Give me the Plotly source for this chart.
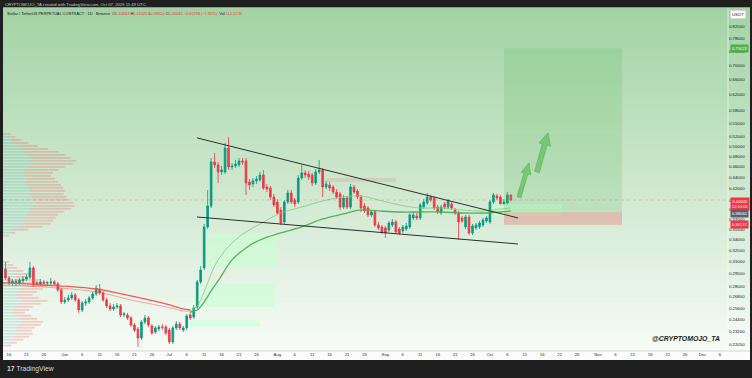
import math
import pandas as pd
import plotly.graph_objects as go

# ---------------- data ----------------
dates = pd.date_range("2025-05-15", periods=146, freq="D")

opens = [0.3009, 0.2899, 0.2840, 0.2863, 0.2840, 0.2863, 0.2887, 0.2911, 0.3022, 0.2828,
         0.2828, 0.2851, 0.2840, 0.2840, 0.2851, 0.2828, 0.2759, 0.2625, 0.2647, 0.2669,
         0.2702, 0.2647, 0.2539, 0.2614, 0.2625, 0.2669, 0.2714, 0.2770, 0.2725, 0.2647,
         0.2582, 0.2550, 0.2571, 0.2582, 0.2488, 0.2488, 0.2457, 0.2386, 0.2347, 0.2261,
         0.2416, 0.2457, 0.2376, 0.2318, 0.2347, 0.2367, 0.2367, 0.2337, 0.2224, 0.2357,
         0.2396, 0.2337, 0.2357, 0.2488, 0.2467, 0.2571, 0.2851, 0.3022, 0.3581, 0.3906,
         0.4688, 0.4630, 0.4498, 0.4498, 0.4965, 0.4591, 0.4610, 0.4630, 0.4707, 0.4707,
         0.4315, 0.4279, 0.4333, 0.4351, 0.4441, 0.4225, 0.4207, 0.4054, 0.3972, 0.3842,
         0.3656, 0.3972, 0.4122, 0.4005, 0.3972, 0.4385, 0.4479, 0.4460, 0.4441, 0.4297,
         0.4498, 0.4535, 0.4225, 0.4261, 0.4225, 0.4139, 0.4105, 0.3889, 0.4037, 0.3889,
         0.4225, 0.4157, 0.4054, 0.3906, 0.3873, 0.3763, 0.3810, 0.3610, 0.3581, 0.3566,
         0.3537, 0.3610, 0.3656, 0.3551, 0.3522, 0.3551, 0.3581, 0.3717, 0.3748, 0.3717,
         0.3889, 0.3955, 0.4054, 0.4037, 0.3889, 0.3794, 0.3939, 0.3889, 0.3939, 0.3842,
         0.3794, 0.3717, 0.3581, 0.3732, 0.3493, 0.3566, 0.3581, 0.3610, 0.3671, 0.3656,
         0.3972, 0.4071, 0.4054, 0.3939, 0.3955, 0.40843]
highs = [0.3099, 0.2923, 0.2887, 0.2887, 0.2899, 0.2923, 0.2948, 0.3099, 0.3047, 0.2863,
         0.2887, 0.2875, 0.2863, 0.2899, 0.2875, 0.2851, 0.2781, 0.2680, 0.2702, 0.2736,
         0.2725, 0.2669, 0.2636, 0.2658, 0.2691, 0.2736, 0.2816, 0.2828, 0.2748, 0.2669,
         0.2614, 0.2603, 0.2614, 0.2603, 0.2518, 0.2508, 0.2477, 0.2406, 0.2367, 0.2436,
         0.2488, 0.2477, 0.2396, 0.2376, 0.2386, 0.2396, 0.2386, 0.2357, 0.2376, 0.2426,
         0.2416, 0.2376, 0.2498, 0.2518, 0.2592, 0.2875, 0.3047, 0.3625, 0.4174, 0.4764,
         0.4866, 0.4688, 0.4610, 0.5071, 0.5197, 0.4669, 0.4727, 0.4764, 0.4764, 0.4764,
         0.4367, 0.4385, 0.4423, 0.4498, 0.4535, 0.4279, 0.4243, 0.4105, 0.4020, 0.3889,
         0.4005, 0.4174, 0.4174, 0.4037, 0.4441, 0.4630, 0.4535, 0.4516, 0.4479, 0.4552,
         0.4727, 0.4571, 0.4333, 0.4315, 0.4261, 0.4189, 0.4139, 0.4088, 0.4071, 0.4279,
         0.4261, 0.4189, 0.4088, 0.3955, 0.3906, 0.3842, 0.3842, 0.3656, 0.3610, 0.3596,
         0.3671, 0.3701, 0.3686, 0.3581, 0.3610, 0.3640, 0.3794, 0.3810, 0.3794, 0.3955,
         0.4020, 0.4122, 0.4088, 0.4071, 0.3922, 0.3922, 0.3972, 0.4020, 0.3972, 0.3873,
         0.3826, 0.3748, 0.3763, 0.3763, 0.3625, 0.3640, 0.3671, 0.3717, 0.3748, 0.4005,
         0.4122, 0.4105, 0.4088, 0.4020, 0.4139, 0.41020]
lows = [0.2875, 0.2816, 0.2816, 0.2804, 0.2816, 0.2840, 0.2863, 0.2887, 0.2793, 0.2804,
        0.2804, 0.2804, 0.2804, 0.2816, 0.2804, 0.2736, 0.2603, 0.2603, 0.2625, 0.2647,
        0.2625, 0.2508, 0.2518, 0.2582, 0.2603, 0.2647, 0.2691, 0.2702, 0.2625, 0.2560,
        0.2529, 0.2529, 0.2550, 0.2467, 0.2467, 0.2436, 0.2367, 0.2318, 0.2179, 0.2243,
        0.2396, 0.2367, 0.2289, 0.2299, 0.2327, 0.2337, 0.2289, 0.2206, 0.2206, 0.2337,
        0.2337, 0.2318, 0.2337, 0.2436, 0.2447, 0.2550, 0.2828, 0.2997, 0.3551, 0.3873,
        0.4571, 0.4297, 0.4441, 0.4460, 0.4535, 0.4535, 0.4571, 0.4591, 0.4630, 0.4088,
        0.4174, 0.4225, 0.4279, 0.4315, 0.4174, 0.4139, 0.4005, 0.3889, 0.3763, 0.3610,
        0.3625, 0.3939, 0.3939, 0.3889, 0.3939, 0.4351, 0.4385, 0.4351, 0.4243, 0.4261,
        0.4460, 0.4054, 0.4189, 0.4157, 0.4105, 0.4020, 0.3842, 0.3857, 0.3857, 0.3857,
        0.4105, 0.4020, 0.3810, 0.3794, 0.3732, 0.3732, 0.3581, 0.3537, 0.3479, 0.3423,
        0.3508, 0.3581, 0.3479, 0.3464, 0.3493, 0.3522, 0.3551, 0.3686, 0.3686, 0.3686,
        0.3857, 0.3922, 0.3972, 0.3842, 0.3779, 0.3763, 0.3857, 0.3857, 0.3842, 0.3763,
        0.3393, 0.3640, 0.3551, 0.3464, 0.3464, 0.3537, 0.3551, 0.3581, 0.3640, 0.3625,
        0.3939, 0.4005, 0.3906, 0.3906, 0.3922, 0.39820]
closes = [0.2899, 0.2840, 0.2863, 0.2840, 0.2875, 0.2887, 0.2911, 0.3022, 0.2816, 0.2840,
          0.2851, 0.2840, 0.2843, 0.2851, 0.2828, 0.2759, 0.2625, 0.2647, 0.2669, 0.2702,
          0.2647, 0.2539, 0.2614, 0.2625, 0.2669, 0.2714, 0.2781, 0.2725, 0.2647, 0.2582,
          0.2550, 0.2571, 0.2582, 0.2488, 0.2498, 0.2457, 0.2386, 0.2337, 0.2261, 0.2416,
          0.2457, 0.2386, 0.2308, 0.2357, 0.2367, 0.2364, 0.2308, 0.2224, 0.2357, 0.2396,
          0.2357, 0.2357, 0.2477, 0.2457, 0.2560, 0.2851, 0.2997, 0.3581, 0.3906, 0.4688,
          0.4630, 0.4498, 0.4535, 0.4965, 0.4591, 0.4610, 0.4649, 0.4707, 0.4688, 0.4297,
          0.4261, 0.4333, 0.4367, 0.4441, 0.4207, 0.4189, 0.4054, 0.3922, 0.3794, 0.3640,
          0.3972, 0.4122, 0.3972, 0.3939, 0.4385, 0.4479, 0.4441, 0.4404, 0.4297, 0.4498,
          0.4535, 0.4225, 0.4279, 0.4207, 0.4139, 0.4054, 0.3889, 0.4037, 0.3889, 0.4225,
          0.4139, 0.4054, 0.3873, 0.3826, 0.3763, 0.3810, 0.3610, 0.3566, 0.3508, 0.3493,
          0.3640, 0.3656, 0.3508, 0.3493, 0.3581, 0.3596, 0.3763, 0.3763, 0.3717, 0.3922,
          0.3972, 0.4054, 0.4005, 0.3873, 0.3810, 0.3889, 0.3889, 0.3988, 0.3873, 0.3794,
          0.3656, 0.3671, 0.3732, 0.3493, 0.3596, 0.3610, 0.3640, 0.3686, 0.3717, 0.3972,
          0.4088, 0.4037, 0.3939, 0.3972, 0.4088, 0.40045]

# moving averages (two, red while below, green while above)
ma_red_dates = ["2025-05-14", "2025-05-26", "2025-06-10", "2025-06-20", "2025-06-30", "2025-07-05", "2025-07-07"]
ma_red_slow = [0.2840, 0.2816, 0.2770, 0.2691, 0.2603, 0.2550, 0.2539]
ma_red_fast = [0.2816, 0.2793, 0.2736, 0.2647, 0.2571, 0.2529, 0.2529]
ma_green_dates = ["2025-07-07", "2025-07-09", "2025-07-11", "2025-07-13", "2025-07-15", "2025-07-19",
                  "2025-07-23", "2025-07-27", "2025-08-02", "2025-08-08", "2025-08-14", "2025-08-20",
                  "2025-08-25", "2025-08-30", "2025-09-05", "2025-09-11", "2025-09-17", "2025-09-23",
                  "2025-09-29", "2025-10-04", "2025-10-07"]
ma_green_fast = [0.2529, 0.2582, 0.2736, 0.2948, 0.3124, 0.3351, 0.3508, 0.3625, 0.3794, 0.3889, 0.3988,
                 0.4054, 0.4071, 0.4005, 0.3922, 0.3873, 0.3873, 0.3842, 0.3826, 0.3857, 0.3873]
ma_green_slow = [0.2518, 0.2539, 0.2625, 0.2748, 0.2863, 0.3124, 0.3283, 0.3393, 0.3493, 0.3581, 0.3701,
                 0.3779, 0.3842, 0.3826, 0.3810, 0.3810, 0.3810, 0.3794, 0.3794, 0.3810, 0.3826]

# wedge trendlines
trend_dates = ["2025-07-08 22:48", "2025-10-09 01:12"]
trend_upper = [0.5178, 0.3717]
trend_lower = [0.3732, 0.3337]

# boxes: (start, end, top, bottom)
fvg_green = [("2025-07-11 19:00", "2025-08-01 05:00", 0.3493, 0.3034),
             ("2025-07-10 02:00", "2025-07-31 05:00", 0.2828, 0.2571),
             ("2025-07-06 22:00", "2025-07-27 00:00", 0.2436, 0.2367),
             ("2025-10-01 22:00", "2025-10-22 00:00", 0.3939, 0.3748)]
fvg_red = [("2025-08-15 05:00", "2025-09-04 00:00", 0.4385, 0.4315)]

# long position tool
pos_start, pos_end = "2025-10-05 01:00", "2025-11-07 21:36"
entry_price, target_price, stop_price = 0.38060, 0.75023, 0.36137
last_price = 0.40045

# arrows (drawn shapes)
arrow1_x = ["2025-10-08 19:12", "2025-10-09 21:22", "2025-10-11 20:53", "2025-10-12 16:48",
            "2025-10-12 05:02", "2025-10-09 22:34", "2025-10-10 18:43", "2025-10-08 19:12"]
arrow1_y = [0.4061, 0.4041, 0.4456, 0.4441, 0.4669, 0.4494, 0.4479, 0.4061]
arrow2_x = ["2025-10-13 19:41", "2025-10-15 04:34", "2025-10-17 09:36", "2025-10-18 09:07",
            "2025-10-17 15:50", "2025-10-15 01:12", "2025-10-16 00:43", "2025-10-13 19:41"]
arrow2_y = [0.4511, 0.4485, 0.5023, 0.5004, 0.5286, 0.5071, 0.5052, 0.4511]

# visible range volume profile
vp_top_prices = [0.5264, 0.5199, 0.5135, 0.5072, 0.5009, 0.4948, 0.4887, 0.4827, 0.4767, 0.4708,
                 0.4650, 0.4593, 0.4537, 0.4481, 0.4426, 0.4371, 0.4317, 0.4264, 0.4212, 0.4160,
                 0.4108, 0.4058, 0.4008, 0.3958, 0.3909, 0.3861, 0.3814, 0.3767, 0.3720, 0.3675,
                 0.3629, 0.3584, 0.3540, 0.3497, 0.3454]
vp_top_up = [5, 7, 11, 15, 20, 25, 30, 35, 40, 38, 42, 35, 30, 28, 30, 32, 30, 34, 36, 38,
             35, 40, 42, 44, 40, 38, 36, 33, 30, 28, 27, 22, 15, 8, 4]
vp_top_down = [6, 10, 14, 20, 28, 37, 46, 51, 54, 63, 55, 51, 46, 41, 36, 40, 46, 46, 47, 48,
               48, 48, 49, 53, 59, 56, 47, 43, 42, 41, 39, 33, 20, 9, 4]
vp_bot_prices = [0.3098, 0.3060, 0.3022, 0.2985, 0.2948, 0.2912, 0.2876, 0.2840, 0.2805, 0.2771,
                 0.2737, 0.2703, 0.2670, 0.2637, 0.2605, 0.2573, 0.2541, 0.2510, 0.2479, 0.2448,
                 0.2418, 0.2388, 0.2359, 0.2330, 0.2301, 0.2273, 0.2245, 0.2217, 0.2190]
vp_bot_up = [3, 6, 8, 12, 15, 18, 22, 25, 27, 24, 20, 18, 22, 26, 22, 18, 15, 13, 17, 20,
             24, 22, 19, 17, 18, 15, 12, 8, 5]
vp_bot_down = [5, 8, 11, 16, 21, 26, 30, 33, 35, 31, 27, 23, 28, 35, 30, 23, 21, 17, 22, 27,
               31, 30, 25, 22, 23, 21, 16, 11, 6]

# axes
price_ticks = [0.82, 0.78, 0.74, 0.70, 0.66, 0.62, 0.58, 0.55, 0.52, 0.50, 0.48, 0.46, 0.44, 0.42,
               0.40, 0.385, 0.37, 0.355, 0.34, 0.325, 0.31, 0.295, 0.28, 0.268, 0.256, 0.244,
               0.232, 0.2205]
x_tick_dates = ["2025-05-16", "2025-05-21", "2025-05-26", "2025-06-01", "2025-06-06", "2025-06-11",
                "2025-06-16", "2025-06-21", "2025-06-26", "2025-07-01", "2025-07-06", "2025-07-11",
                "2025-07-16", "2025-07-21", "2025-07-26", "2025-08-01", "2025-08-06", "2025-08-11",
                "2025-08-16", "2025-08-21", "2025-08-26", "2025-09-01", "2025-09-06", "2025-09-11",
                "2025-09-16", "2025-09-21", "2025-09-26", "2025-10-01", "2025-10-06", "2025-10-11",
                "2025-10-16", "2025-10-21", "2025-10-26", "2025-11-01", "2025-11-06", "2025-11-11",
                "2025-11-16", "2025-11-21", "2025-11-26", "2025-12-01", "2025-12-06"]
x_tick_text = ["16", "21", "26", "Jun", "6", "11", "16", "21", "26", "Jul", "6", "11", "16", "21",
               "26", "Aug", "6", "11", "16", "21", "26", "Sep", "6", "11", "16", "21", "26", "Oct",
               "6", "11", "16", "21", "26", "Nov", "6", "11", "16", "21", "26", "Dec", "6"]

# ---------------- figure ----------------
W, H = 752, 378
L, R, T, B = 3, 24, 8, 27
PW, PH = W - L - R, H - T - B
FONT = "Liberation Sans"
GREEN, RED = "#089981", "#f23645"


def pxx(px):
    return (px - L) / PW


def pxy(py):
    return (H - B - py) / PH


fig = go.Figure()

# background gradient (chart + price scale column)
top_c, bot_c = (162, 211, 163), (247, 251, 247)
n = 70
for i in range(n):
    t = (i + 0.5) / n
    c = tuple(round(bot_c[k] + (top_c[k] - bot_c[k]) * t) for k in range(3))
    fig.add_shape(type="rect", xref="paper", yref="paper", x0=0, x1=pxx(750),
                  y0=i / n, y1=(i + 1) / n + 0.002, fillcolor="rgb(%d,%d,%d)" % c,
                  line_width=0, layer="below")
# time scale band
fig.add_shape(type="rect", xref="paper", yref="paper", x0=0, x1=pxx(750), y0=pxy(360), y1=0,
              fillcolor="#fbfcfb", line_width=0, layer="below")
fig.add_shape(type="line", xref="paper", yref="paper", x0=0, x1=pxx(750), y0=0, y1=0,
              line=dict(color="#c9cec9", width=0.8), layer="below")
fig.add_shape(type="line", xref="paper", yref="paper", x0=1, x1=1, y0=pxy(360), y1=pxy(8),
              line=dict(color="rgba(255,255,255,0.7)", width=0.8), layer="below")


def add_rect(x0, x1, top, bot, fill):
    fig.add_trace(go.Scatter(x=[x0, x1, x1, x0, x0], y=[bot, bot, top, top, bot], mode="lines",
                             fill="toself", fillcolor=fill, line=dict(width=0),
                             hoverinfo="skip", showlegend=False))


# volume profile on its own horizontal scale
for prices, ups, downs in ((vp_top_prices, vp_top_up, vp_top_down), (vp_bot_prices, vp_bot_up, vp_bot_down)):
    ux, uy, dx, dy = [], [], [], []
    for p, u, d in zip(prices, ups, downs):
        ux += [0, u, None]
        uy += [p, p, None]
        dx += [u, u + d, None]
        dy += [p, p, None]
    fig.add_trace(go.Scatter(x=ux, y=uy, xaxis="x2", yaxis="y", mode="lines",
                             line=dict(color="rgba(38,166,154,0.20)", width=1.8),
                             hoverinfo="skip", showlegend=False))
    fig.add_trace(go.Scatter(x=dx, y=dy, xaxis="x2", yaxis="y", mode="lines",
                             line=dict(color="rgba(239,83,80,0.26)", width=1.8),
                             hoverinfo="skip", showlegend=False))

for x0, x1, top, bot in fvg_green:
    add_rect(x0, x1, top, bot, "rgba(200,255,210,0.55)")
for x0, x1, top, bot in fvg_red:
    add_rect(x0, x1, top, bot, "rgba(242,54,69,0.13)")

# position tool zones
add_rect(pos_start, pos_end, target_price, entry_price, "rgba(76,175,80,0.17)")
add_rect(pos_start, pos_end, entry_price, stop_price, "rgba(242,54,69,0.25)")

# moving averages
fig.add_trace(go.Scatter(x=ma_red_dates, y=ma_red_fast, mode="lines", line=dict(color="rgba(239,83,80,0.55)", width=0.9, shape="spline"), hoverinfo="skip", showlegend=False))
fig.add_trace(go.Scatter(x=ma_red_dates, y=ma_red_slow, mode="lines", line=dict(color="rgba(239,83,80,0.95)", width=1.3, shape="spline"), hoverinfo="skip", showlegend=False))
fig.add_trace(go.Scatter(x=ma_green_dates, y=ma_green_fast, mode="lines", line=dict(color="rgba(129,205,129,0.9)", width=0.9, shape="spline"), hoverinfo="skip", showlegend=False))
fig.add_trace(go.Scatter(x=ma_green_dates, y=ma_green_slow, mode="lines", line=dict(color="rgba(76,175,80,0.95)", width=1.3, shape="spline"), hoverinfo="skip", showlegend=False))

# last price line
x_start, x_end = "2025-05-14 06:41", "2025-12-08 07:26"
fig.add_trace(go.Scatter(x=[x_start, x_end], y=[last_price, last_price], mode="lines",
                         line=dict(color="rgba(242,54,69,0.35)", width=0.7, dash="dot"),
                         hoverinfo="skip", showlegend=False))

# candles
fig.add_trace(go.Candlestick(x=dates, open=opens, high=highs, low=lows, close=closes,
                             increasing=dict(line=dict(color=GREEN, width=0.8), fillcolor=GREEN),
                             decreasing=dict(line=dict(color=RED, width=0.8), fillcolor=RED),
                             whiskerwidth=0, hoverinfo="skip", showlegend=False))

# trendlines
for ys in (trend_upper, trend_lower):
    fig.add_trace(go.Scatter(x=trend_dates, y=ys, mode="lines", line=dict(color="#2e2e2e", width=1),
                             hoverinfo="skip", showlegend=False))

# arrows
for ax_, ay_ in ((arrow1_x, arrow1_y), (arrow2_x, arrow2_y)):
    fig.add_trace(go.Scatter(x=ax_, y=ay_, mode="lines", fill="toself",
                             fillcolor="rgba(112,196,112,0.9)", line=dict(color="#5cb55c", width=0.7),
                             hoverinfo="skip", showlegend=False))

# ---------------- annotations ----------------
ann = []


def tag(text, price, bg, yshift=0, yanchor="middle"):
    ann.append(dict(xref="paper", yref="y", x=pxx(729.5), y=math.log10(price), xanchor="left",
                    yanchor=yanchor, text=text, showarrow=False, bgcolor=bg, borderpad=0.9,
                    yshift=yshift, font=dict(size=4.1, color="white", family=FONT)))


tag("0.75023", target_price, "#4caf50")
tag("0.40045<br>12:10:05", last_price, RED, yshift=3.2, yanchor="top")
tag("0.38060", entry_price, "#5d606b", yshift=-1)
tag("0.36137", stop_price, RED)

ann.append(dict(xref="paper", yref="paper", x=pxx(730.5), y=pxy(9.5), xanchor="left", yanchor="top",
                text="USDT", showarrow=False, bgcolor="white", bordercolor="#c9cec9", borderwidth=0.6,
                borderpad=1.5, font=dict(size=4.2, color="#131722", family=FONT)))

ann.append(dict(xref="paper", yref="paper", x=pxx(3), y=pxy(4), xanchor="left", yanchor="middle",
                text="CRYPTOMOJO_TA created with TradingView.com, Oct 07, 2025 11:49 UTC", showarrow=False,
                font=dict(size=4.2, color="#c9c9c9", family=FONT)))
ann.append(dict(xref="paper", yref="paper", x=pxx(5), y=pxy(13.5), xanchor="left", yanchor="middle",
                text=("Stellar / TetherUS PERPETUAL CONTRACT · 1D · Binance  "
                      "O<span style='color:#f23645'>0.40843</span> H<span style='color:#f23645'>0.41020</span> "
                      "L<span style='color:#f23645'>0.39820</span> C<span style='color:#f23645'>0.40045</span> "
                      "<span style='color:#f23645'>−0.00798 (−1.95%)</span>  Vol <span style='color:#f23645'>114.12 M</span>"),
                showarrow=False, font=dict(size=3.9, color="#131722", family=FONT)))
ann.append(dict(xref="paper", yref="paper", x=pxx(722), y=pxy(338.5), xanchor="right", yanchor="middle",
                text="<b><i>@CRYPTOMOJO_TA</i></b>", showarrow=False,
                font=dict(size=6.9, color="#1b1b1b", family=FONT)))
ann.append(dict(xref="paper", yref="paper", x=pxx(5), y=pxy(369), xanchor="left", yanchor="middle",
                text="<b>17</b> TradingView", showarrow=False,
                font=dict(size=6.8, color="#d8d8d8", family=FONT)))

fig.update_layout(
    width=W, height=H,
    margin=dict(l=L, r=R, t=T, b=B, pad=0, autoexpand=False),
    paper_bgcolor="#1f1f1f",
    plot_bgcolor="rgba(0,0,0,0)",
    showlegend=False,
    annotations=ann,
    xaxis=dict(type="date", range=[x_start, x_end], rangeslider=dict(visible=False),
               showgrid=False, zeroline=False, showline=False, ticks="",
               tickmode="array", tickvals=x_tick_dates, ticktext=x_tick_text,
               tickfont=dict(size=4.3, color="#2a2e39", family=FONT), fixedrange=True),
    xaxis2=dict(overlaying="x", anchor="y", range=[0, 1000], visible=False, fixedrange=True),
    yaxis=dict(type="log", side="right", range=[-0.6691, -0.0522], showgrid=False, zeroline=False,
               showline=False, ticks="", tickmode="array", tickvals=price_ticks,
               ticktext=["%.5f" % v for v in price_ticks],
               tickfont=dict(size=4.3, color="#131722", family=FONT), fixedrange=True),
)

fig.write_html("out.html", config={"displayModeBar": False},
               post_script="document.body.style.margin='0';document.body.style.padding='0';"
                           "document.body.style.overflow='hidden';")
